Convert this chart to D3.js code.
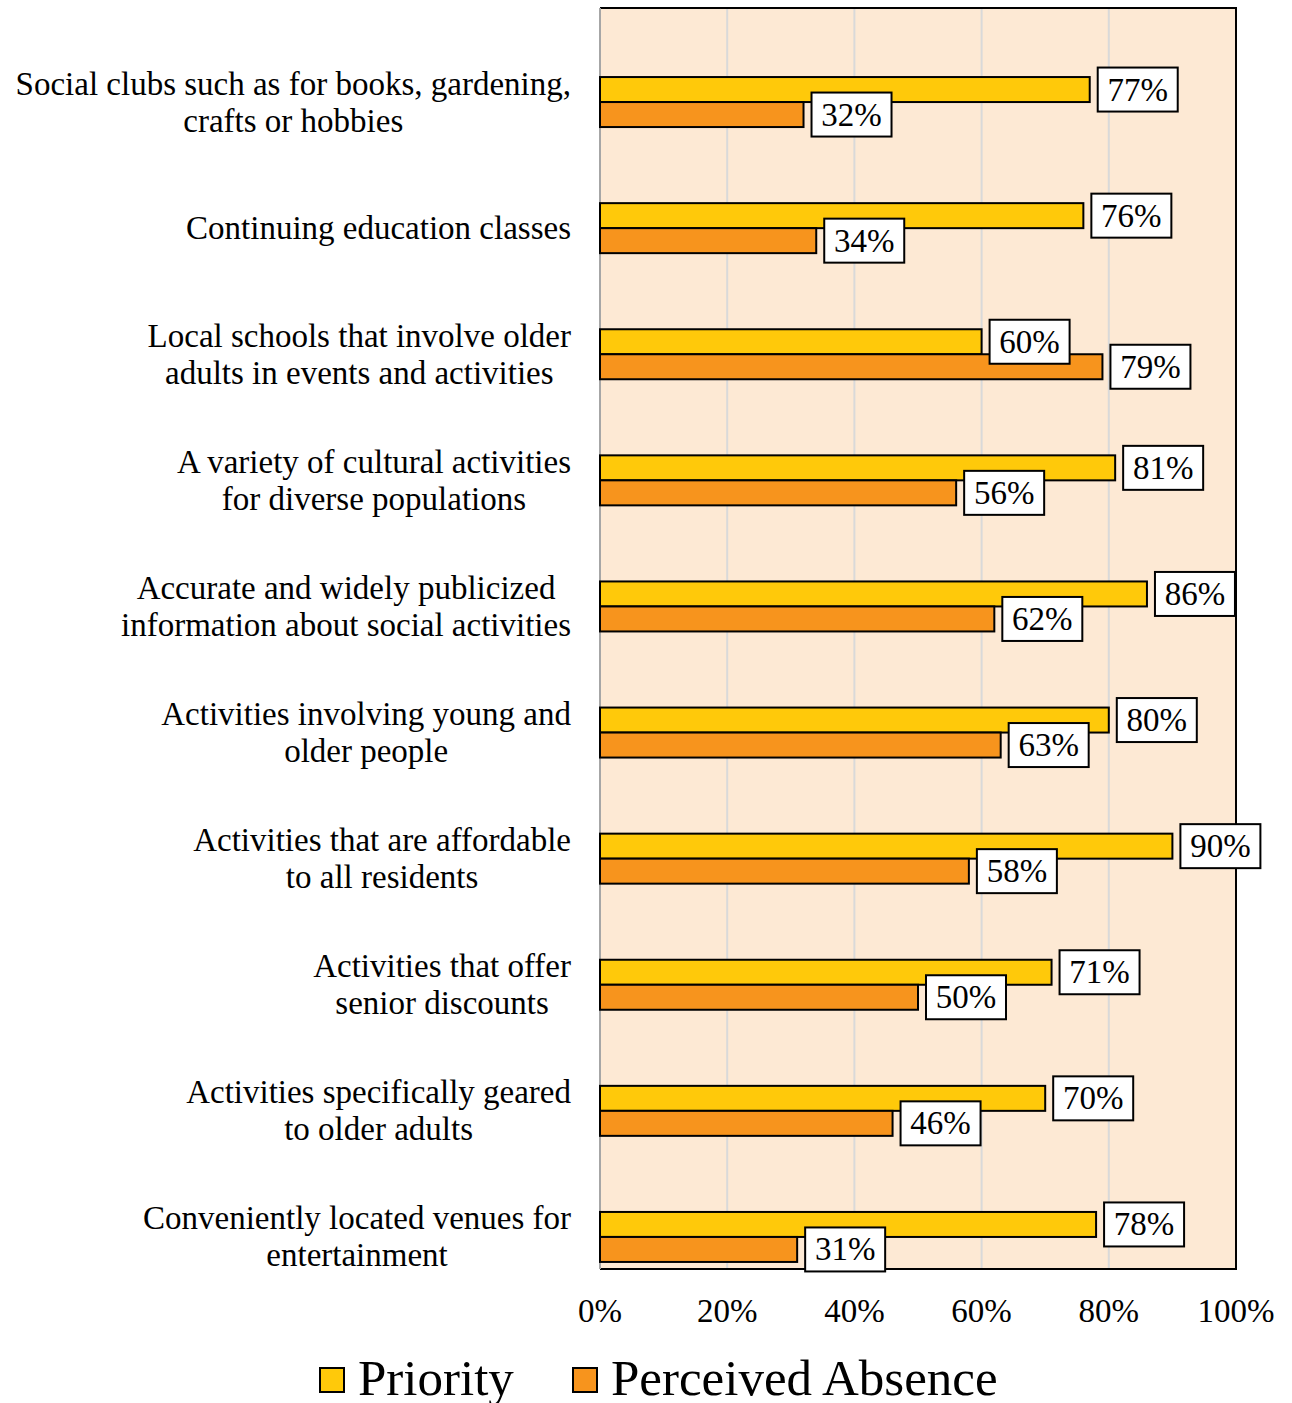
<!DOCTYPE html>
<html>
<head>
<meta charset="utf-8">
<script src="https://cdn.jsdelivr.net/npm/d3@7"></script>
<style>
  body { margin: 0; background: #fff; }
  text { font-family: "Liberation Serif", serif; fill: #000; }
</style>
</head>
<body>
<svg id="chart" width="1292" height="1403"></svg>
<script>
const categories = [
    ["Social clubs such as for books, gardening,", "crafts or hobbies"],
    ["Continuing education classes"],
    ["Local schools that involve older", "adults in events and activities"],
    ["A variety of cultural activities", "for diverse populations"],
    ["Accurate and widely publicized", "information about social activities"],
    ["Activities involving young and", "older people"],
    ["Activities that are affordable", "to all residents"],
    ["Activities that offer", "senior discounts"],
    ["Activities specifically geared", "to older adults"],
    ["Conveniently located venues for", "entertainment"]
];
const priority = [77, 76, 60, 81, 86, 80, 90, 71, 70, 78];
const absence = [32, 34, 79, 56, 62, 63, 58, 50, 46, 31];
const xTicks = [0, 20, 40, 60, 80, 100];
const seriesNames = ["Priority", "Perceived Absence"];
const colors = ["#FFC90A", "#F7941D"];

const plot = { left: 600, right: 1236, top: 8, bottom: 1269 };
const barH = 25;

const svg = d3.select("#chart");

const x = d3.scaleLinear().domain([0, 100]).range([plot.left, plot.right]);
// bar groups sit in the lower part of each band, as in the original
const y = d3.scaleBand()
    .domain(d3.range(categories.length))
    .range([plot.top + 31, plot.bottom + 31]);

svg.append("rect")
    .attr("x", plot.left).attr("y", plot.top)
    .attr("width", plot.right - plot.left)
    .attr("height", plot.bottom - plot.top)
    .attr("fill", "#FDE9D4");

svg.append("g")
    .selectAll("line")
    .data(xTicks.slice(1, -1))
    .join("line")
    .attr("x1", d => x(d)).attr("x2", d => x(d))
    .attr("y1", plot.top).attr("y2", plot.bottom)
    .attr("stroke", "#D9D9D9").attr("stroke-width", 2);

// frame
svg.append("path")
    .attr("d", `M${plot.left},${plot.top}H${plot.right}V${plot.bottom}H${plot.left}`)
    .attr("fill", "none").attr("stroke", "#000").attr("stroke-width", 2);
svg.append("line")
    .attr("x1", plot.left).attr("x2", plot.left)
    .attr("y1", plot.top).attr("y2", plot.bottom)
    .attr("stroke", "#A6A6A6").attr("stroke-width", 2);

const series = [priority, absence];
const bars = svg.append("g");
const labels = svg.append("g");

series.forEach((vals, s) => {
    vals.forEach((v, i) => {
        const cy = y(i) + y.bandwidth() / 2;
        const by = s === 0 ? cy - barH : cy;
        bars.append("rect")
            .attr("x", x(0)).attr("y", by)
            .attr("width", x(v) - x(0)).attr("height", barH)
            .attr("fill", colors[s])
            .attr("stroke", "#000").attr("stroke-width", 2);
    });
});

series.forEach((vals, s) => {
    vals.forEach((v, i) => {
        const cy = y(i) + y.bandwidth() / 2;
        const my = s === 0 ? cy - barH / 2 : cy + barH / 2;
        const g = labels.append("g")
            .attr("transform", `translate(${x(v) + 8},${my})`);
        const bx = g.append("rect");
        const t = g.append("text")
            .attr("x", 40).attr("y", 11)
            .attr("text-anchor", "middle")
            .attr("font-size", 33)
            .text(v + "%");
        const w = Math.max(80, t.node().getComputedTextLength() + 18);
        t.attr("x", w / 2);
        bx.attr("x", 0).attr("y", -22)
            .attr("width", w).attr("height", 44)
            .attr("fill", "#fff").attr("stroke", "#000").attr("stroke-width", 2);
    });
});

// category labels, centred lines with the block right aligned
const catG = svg.append("g");
categories.forEach((lines, i) => {
    const cy = y(i) + y.bandwidth() / 2;
    const g = catG.append("g");
    const lh = 37;
    const texts = lines.map((ln, k) => g.append("text")
        .attr("y", cy + (k - (lines.length - 1) / 2) * lh + 11)
        .attr("text-anchor", "middle")
        .attr("font-size", 33)
        .text(ln));
    const maxW = d3.max(texts, t => t.node().getComputedTextLength());
    texts.forEach(t => t.attr("x", 571 - maxW / 2));
});

svg.append("g")
    .selectAll("text")
    .data(xTicks)
    .join("text")
    .attr("x", d => x(d))
    .attr("y", 1322)
    .attr("text-anchor", "middle")
    .attr("font-size", 33)
    .text(d => d + "%");

// legend
const legendX = [320, 573];
seriesNames.forEach((name, s) => {
    svg.append("rect")
        .attr("x", legendX[s]).attr("y", 1368)
        .attr("width", 24).attr("height", 24)
        .attr("fill", colors[s]).attr("stroke", "#000").attr("stroke-width", 2);
    svg.append("text")
        .attr("x", legendX[s] + 38).attr("y", 1395)
        .attr("font-size", 51)
        .text(name);
});
</script>
</body>
</html>
